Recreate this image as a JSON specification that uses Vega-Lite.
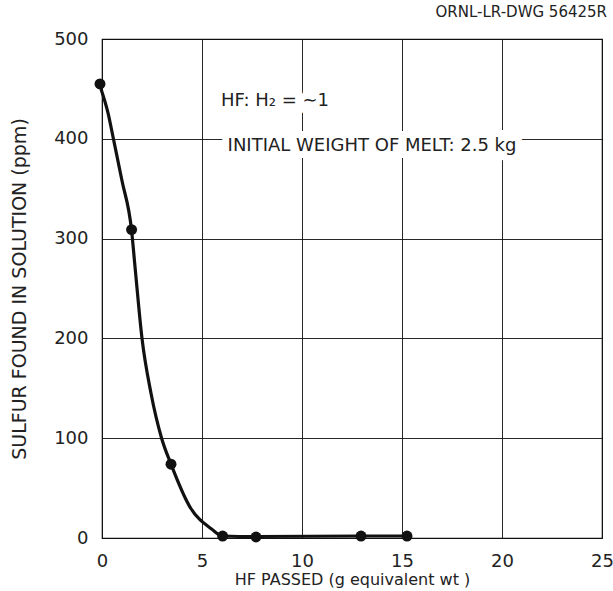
{
  "$schema": "https://vega.github.io/schema/vega-lite/v6.json",
  "width": 500,
  "height": 499,
  "autosize": {"type": "none"},
  "padding": {"left": 102, "top": 39, "right": 11, "bottom": 53},
  "background": "white",
  "config": {
    "font": "DejaVu Sans",
    "view": {"stroke": "#111", "strokeWidth": 1.2},
    "axis": {
      "grid": true, "gridColor": "#111", "gridWidth": 1, "gridOpacity": 0.9,
      "ticks": false, "domain": false,
      "labelFont": "DejaVu Sans", "labelFontSize": 18, "labelColor": "#222",
      "titleFont": "DejaVu Sans", "titleFontSize": 16, "titleFontWeight": "normal", "titleColor": "#222"
    }
  },
  "datasets": {
    "points": [
      {"x": -0.1, "y": 455},
      {"x": 1.48, "y": 309},
      {"x": 3.45, "y": 74},
      {"x": 6.03, "y": 2},
      {"x": 7.7, "y": 1},
      {"x": 12.95, "y": 2},
      {"x": 15.25, "y": 2}
    ],
    "curve": [
      {"x": -0.05, "y": 450},
      {"x": 0.3, "y": 426},
      {"x": 0.57, "y": 400},
      {"x": 1.0, "y": 358},
      {"x": 1.48, "y": 308},
      {"x": 1.65, "y": 272},
      {"x": 2.0, "y": 200},
      {"x": 2.45, "y": 145},
      {"x": 2.98, "y": 100},
      {"x": 3.45, "y": 74},
      {"x": 4.4, "y": 31},
      {"x": 5.48, "y": 9},
      {"x": 6.03, "y": 2},
      {"x": 7.7, "y": 1.5},
      {"x": 12.95, "y": 2},
      {"x": 15.25, "y": 2}
    ],
    "notes": [
      {"x": 8.65, "y": 438, "label": "HF: H₂ = ∼1"},
      {"x": 13.5, "y": 393, "label": "INITIAL WEIGHT OF MELT: 2.5 kg"}
    ]
  },
  "layer": [
    {
      "data": {"name": "notes"},
      "mark": {"type": "text", "stroke": "white", "strokeWidth": 14, "fontSize": 18, "font": "DejaVu Sans", "align": "center", "baseline": "middle"},
      "encoding": {
        "x": {"field": "x", "type": "quantitative"},
        "y": {"field": "y", "type": "quantitative"},
        "text": {"field": "label"}
      }
    },
    {
      "data": {"name": "curve"},
      "mark": {"type": "line", "interpolate": "monotone", "color": "#111", "strokeWidth": 3.2},
      "encoding": {
        "x": {
          "field": "x", "type": "quantitative",
          "scale": {"domain": [0, 25], "nice": false, "zero": false},
          "axis": {"values": [0, 5, 10, 15, 20, 25], "labelFlush": false, "labelPadding": 14, "title": "HF PASSED (g equivalent wt )", "titlePadding": 1}
        },
        "y": {
          "field": "y", "type": "quantitative",
          "scale": {"domain": [0, 500], "nice": false},
          "axis": {"values": [0, 100, 200, 300, 400, 500], "labelFlush": false, "labelPadding": 14, "title": "SULFUR FOUND IN SOLUTION (ppm)", "titleFontSize": 19, "titlePadding": 24}
        }
      }
    },
    {
      "data": {"name": "points"},
      "mark": {"type": "point", "filled": true, "color": "#111", "size": 120, "opacity": 1},
      "encoding": {
        "x": {"field": "x", "type": "quantitative"},
        "y": {"field": "y", "type": "quantitative"}
      }
    },
    {
      "data": {"name": "notes"},
      "mark": {"type": "text", "fontSize": 18, "font": "DejaVu Sans", "color": "#222", "align": "center", "baseline": "middle"},
      "encoding": {
        "x": {"field": "x", "type": "quantitative"},
        "y": {"field": "y", "type": "quantitative"},
        "text": {"field": "label"}
      }
    }
  ],
  "title": {
    "text": "ORNL-LR-DWG 56425R",
    "anchor": "end",
    "frame": "group",
    "fontSize": 15,
    "fontWeight": "normal",
    "font": "DejaVu Sans",
    "color": "#222",
    "offset": 10,
    "dx": 5
  }
}
